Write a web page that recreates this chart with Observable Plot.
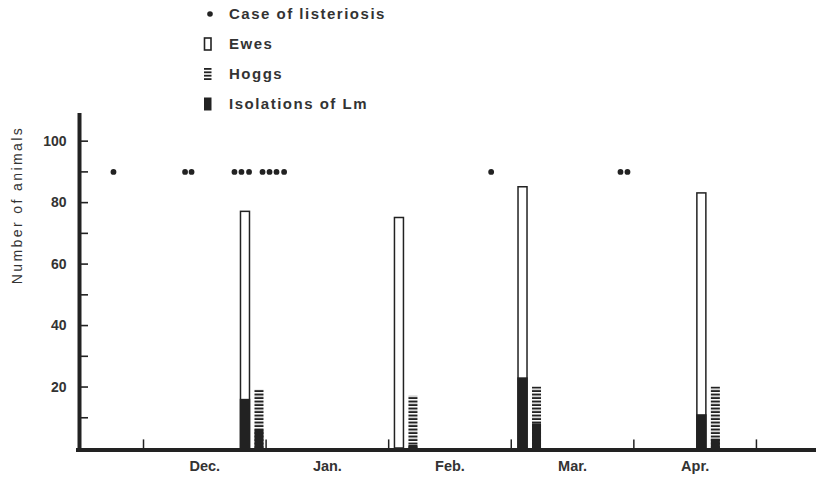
<!DOCTYPE html>
<html><head><meta charset="utf-8">
<script src="https://cdn.jsdelivr.net/npm/d3@7"></script>
<script src="https://cdn.jsdelivr.net/npm/@observablehq/plot@0.6"></script>
<style>
html,body{margin:0;padding:0;background:#fff;}
#chart{position:relative;width:816px;height:480px;}
svg{font-family:"Liberation Sans",Arial,sans-serif;}
</style></head><body><div id="chart"></div>
<script>
// x position = months after 1 December
const months = ["Dec.", "Jan.", "Feb.", "Mar.", "Apr."];
const monthBounds = [0, 1, 2, 3, 4, 5];
const sampleMonth = [0.889, 2.145, 3.153, 4.612];
const ewes = [77, 75, 85, 83];
const ewesIso = [16, 0, 23, 11];
const hoggs = [19, 17, 20, 20];
const hoggsIso = [6, 1, 8, 3];
const caseMonth = [-0.245, 0.339, 0.392, 0.742, 0.799, 0.861, 0.971, 1.028, 1.085, 1.147, 2.836, 3.891, 3.948];
const caseLevel = 90;
const yMajor = [20, 40, 60, 80, 100];
const yMinor = [10, 30, 50, 70, 90];
const xDomain = [-0.514, 5.49];
const yDomain = [0, 109];
const legendItems = ["Case of listeriosis", "Ewes", "Hoggs", "Isolations of Lm"];

const ink = "#222";
const samples = sampleMonth.map((m, i) => ({m, ewes: ewes[i], ewesIso: ewesIso[i], hoggs: hoggs[i], hoggsIso: hoggsIso[i]}));
const labels = months.map((name, i) => ({name, x: (monthBounds[i] + monthBounds[i + 1]) / 2}));
const W = 816, H = 480, mL = 80, mR = 0, mT = 113, mB = 32;
const frameW = W - mL - mR;

const chart = Plot.plot({
  width: W, height: H,
  marginLeft: mL, marginRight: mR, marginTop: mT, marginBottom: mB,
  style: {background: "#fff", fontFamily: "Liberation Sans, Arial, sans-serif"},
  x: {domain: xDomain, axis: null},
  y: {domain: yDomain, axis: null},
  marks: [
    // y ticks (inward)
    Plot.ruleY(yMajor.concat(yMinor), {stroke: ink, strokeWidth: 1.6, insetRight: frameW - 8}),
    Plot.text(yMajor, {y: d => d, text: d => String(d), frameAnchor: "left", textAnchor: "end", dx: -14, fontSize: 14, fontWeight: "bold", fill: "#333"}),
    // ewes bars
    Plot.rectY(samples, {x1: "m", x2: "m", y1: 0, y2: "ewes", fill: "#fff", stroke: ink, strokeWidth: 1.5, insetLeft: -11.5, insetRight: 2.5}),
    Plot.rectY(samples.filter(d => d.ewesIso > 0), {x1: "m", x2: "m", y1: 0, y2: "ewesIso", fill: ink, insetLeft: -12.25, insetRight: 1.75}),
    // hoggs bars
    Plot.rectY(samples, {x1: "m", x2: "m", y1: 0, y2: "hoggs", fill: "url(#hoggHatch)", insetLeft: 2.5, insetRight: -11.5}),
    Plot.rectY(samples, {x1: "m", x2: "m", y1: 0, y2: "hoggsIso", fill: ink, insetLeft: 2.5, insetRight: -11.5}),
    // cases
    Plot.dot(caseMonth, {x: d => d, y: () => caseLevel, r: 2.9, fill: ink, stroke: "none"}),
    // axes lines
    Plot.ruleX(monthBounds, {y1: 0, y2: 2.8, stroke: ink, strokeWidth: 1.5}),
    Plot.ruleX([xDomain[0]], {y1: 0, y2: yDomain[1], stroke: ink, strokeWidth: 4, dx: -1}),
    Plot.ruleY([0], {stroke: ink, strokeWidth: 4, dy: 1.5, insetLeft: -4}),
    Plot.text(labels, {x: "x", text: "name", frameAnchor: "bottom", dy: 22, fontSize: 14.5, fontWeight: "bold", fill: "#333", style: "letter-spacing:1px"})
  ]
});

const svg = d3.select(chart);
const defs = svg.insert("defs", ":first-child");
const pat = defs.append("pattern").attr("id", "hoggHatch").attr("patternUnits", "userSpaceOnUse")
  .attr("width", 20).attr("height", 3.5);
pat.append("rect").attr("width", 20).attr("height", 3.5).attr("fill", "#fff");
pat.append("rect").attr("y", 1.5).attr("width", 20).attr("height", 2).attr("fill", ink);

// y label
svg.append("text").attr("transform", "translate(22,205) rotate(-90)").attr("text-anchor", "middle")
  .attr("font-size", 14).attr("fill", "#333").attr("letter-spacing", 2.4).text("Number of animals");

// legend
const lg = svg.append("g").attr("fill", ink).attr("text-anchor", "start");
const ly = [14, 44, 74, 104];
lg.append("circle").attr("cx", 210).attr("cy", ly[0]).attr("r", 2.8);
lg.append("rect").attr("x", 204.5).attr("y", ly[1] - 6).attr("width", 6.5).attr("height", 12).attr("fill", "#fff").attr("stroke", ink).attr("stroke-width", 1.6);
for (let k = 0; k < 4; k++) lg.append("rect").attr("x", 204).attr("y", ly[2] - 6 + k * 3.4).attr("width", 7.5).attr("height", 1.8);
lg.append("rect").attr("x", 204).attr("y", ly[3] - 6.5).attr("width", 7.5).attr("height", 13);
legendItems.forEach((t, i) => {
  lg.append("text").attr("x", 229).attr("y", ly[i]).attr("dy", "0.36em").attr("font-size", 15)
    .attr("text-anchor", "start").attr("font-weight", "bold").attr("letter-spacing", 1.5).attr("fill", "#333").text(t);
});

document.getElementById("chart").appendChild(chart);
</script>
</body></html>
